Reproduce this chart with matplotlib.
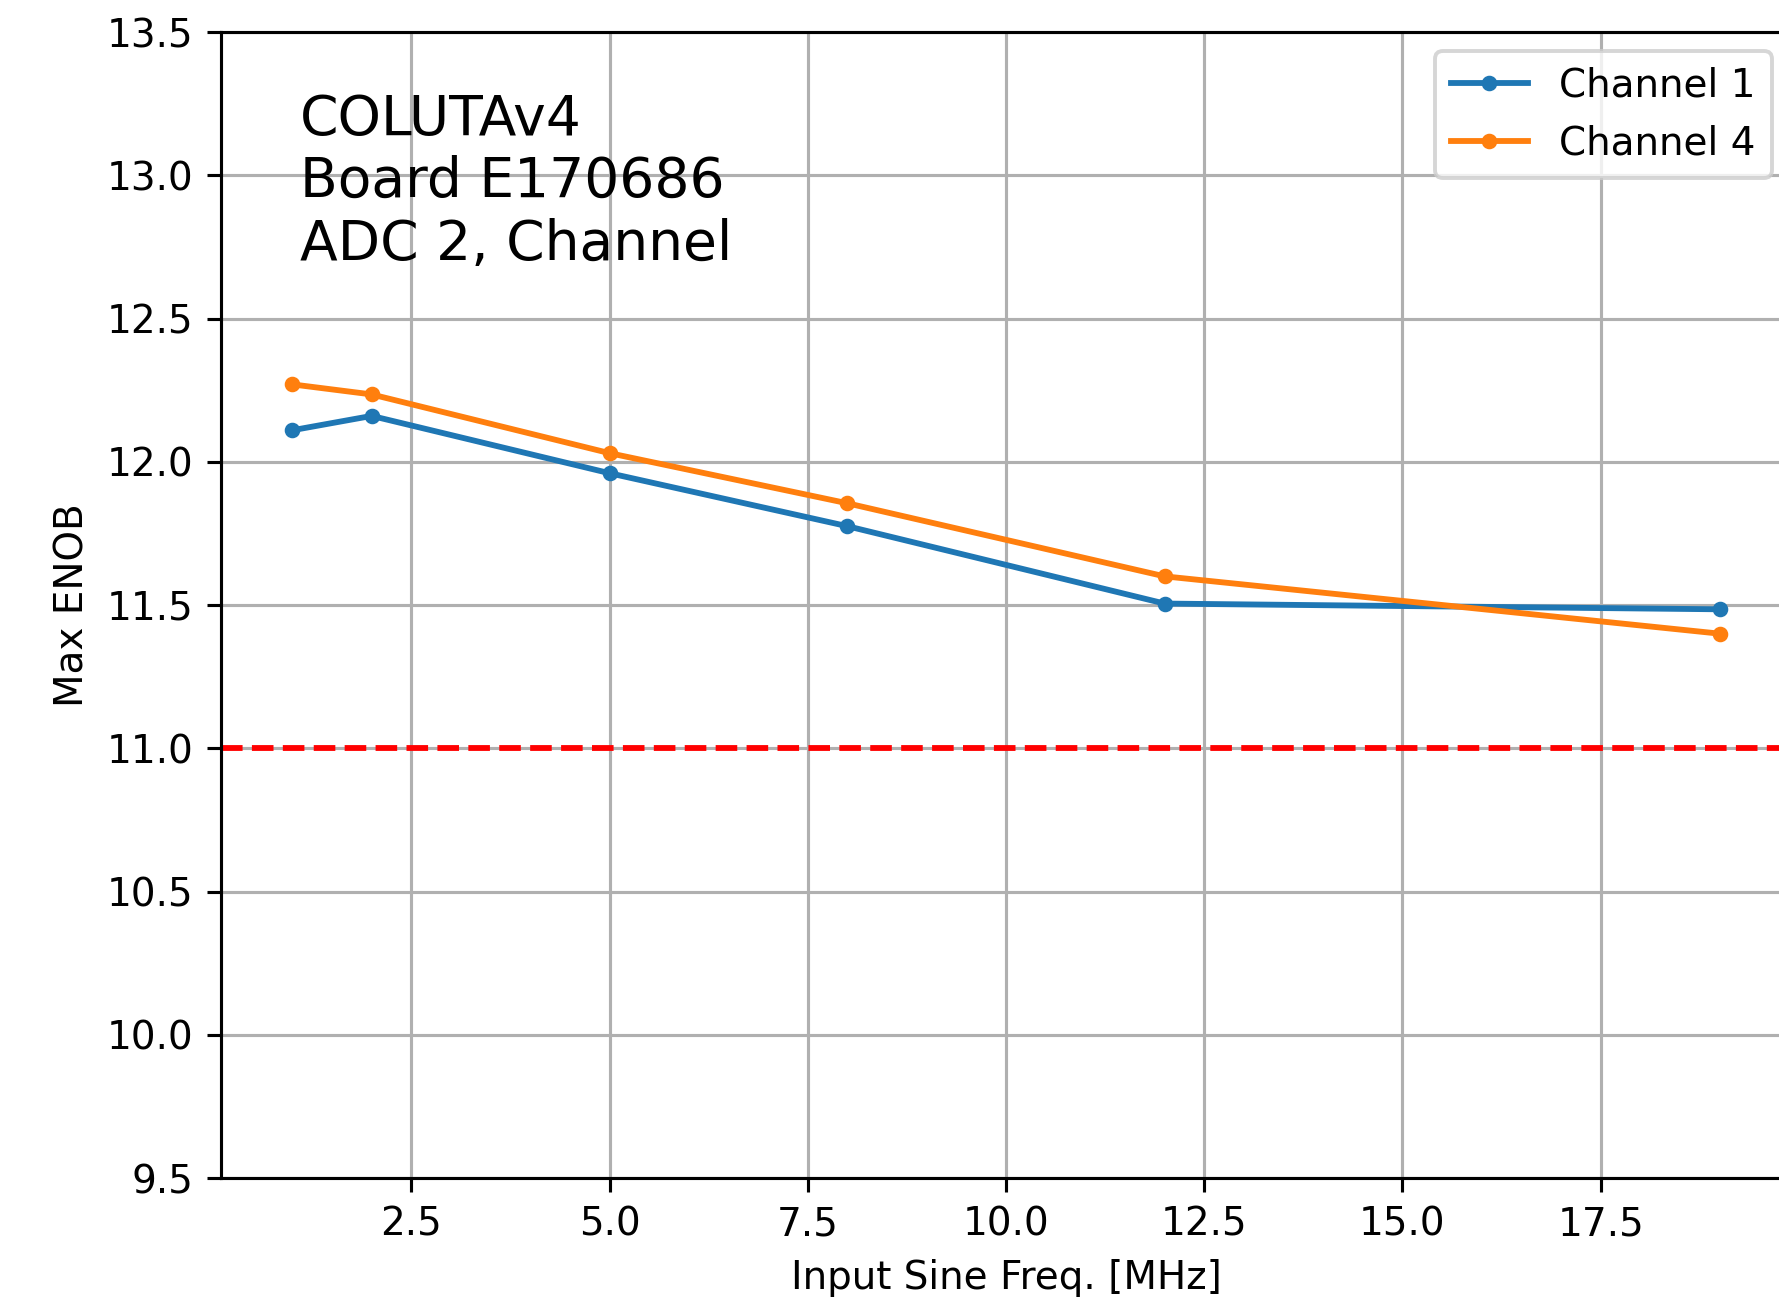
import matplotlib
matplotlib.use("Agg")
import matplotlib.pyplot as plt

freqs = [1, 2, 5, 8, 12, 19]
ch1_enob = [12.11, 12.16, 11.96, 11.775, 11.505, 11.485]
ch4_enob = [12.27, 12.235, 12.03, 11.855, 11.60, 11.40]
series_labels = ["Channel 1", "Channel 4"]
threshold = 11.0
y_ticks = [9.5, 10.0, 10.5, 11.0, 11.5, 12.0, 12.5, 13.0, 13.5]
annotation = "COLUTAv4\nBoard E170686\nADC 2, Channel"

dpi = 280
fig = plt.figure(figsize=(1779 / dpi, 1303 / dpi), dpi=dpi)
ax = fig.add_axes([221 / 1779, 125 / 1303, (1791 - 221) / 1779, (1178 - 32) / 1303])

ax.plot(freqs, ch1_enob, marker='.', label=series_labels[0])
ax.plot(freqs, ch4_enob, marker='.', label=series_labels[1])
ax.axhline(threshold, color='r', linestyle='--')

ax.set_ylim(9.5, 13.5)
ax.set_yticks(y_ticks)
ax.grid(True)
ax.set_xlabel("Input Sine Freq. [MHz]")
ax.set_ylabel("Max ENOB")
ax.text(0.05, 0.947, annotation, transform=ax.transAxes, fontsize=14.2, va='top', ha='left')
ax.legend(loc='upper right')

fig.savefig("out.png", dpi=dpi)
